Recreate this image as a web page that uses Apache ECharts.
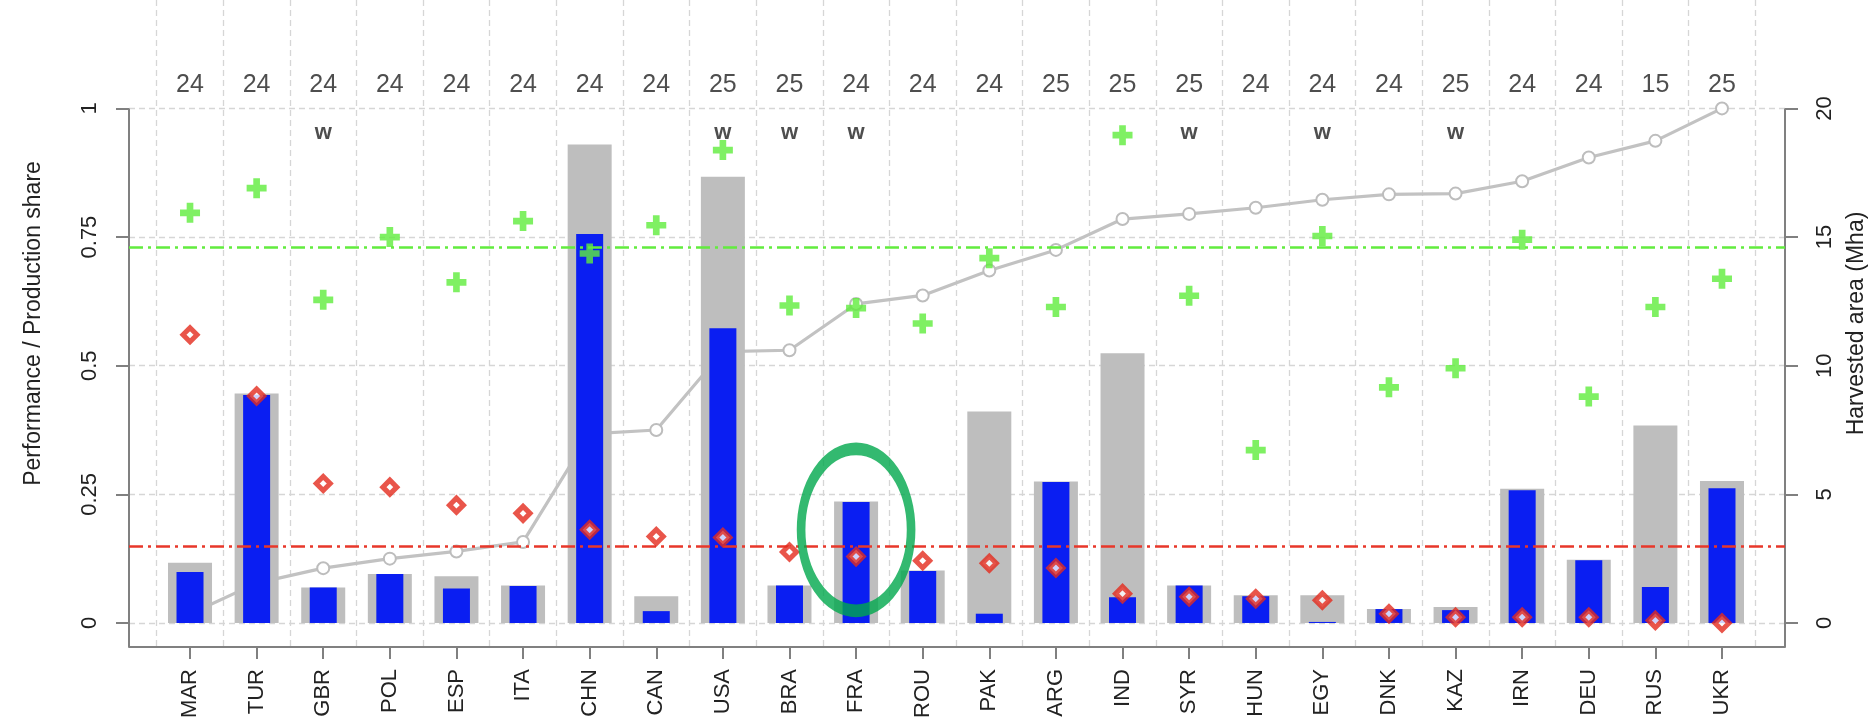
<!DOCTYPE html>
<html>
<head>
<meta charset="utf-8">
<script src="https://cdn.jsdelivr.net/npm/echarts@6/dist/echarts.min.js"></script>
<style>
  html, body { margin: 0; padding: 0; background: #ffffff; }
  #chart { width: 1873px; height: 723px; }
</style>
</head>
<body>
<div id="chart"></div>
<script>
// ---- data -------------------------------------------------------------
const countries = ['MAR','TUR','GBR','POL','ESP','ITA','CHN','CAN','USA','BRA','FRA','ROU',
                   'PAK','ARG','IND','SYR','HUN','EGY','DNK','KAZ','IRN','DEU','RUS','UKR'];

// number of seasons behind each country's statistics (top row)
const seasonCounts = [24,24,24,24,24,24,24,24,25,25,24,24,24,25,25,25,24,24,24,25,24,24,15,25];

// 'w' marks countries flagged in the second row
const flags = ['','','w','','','','','','w','w','w','','','','','w','','w','','w','','','',''];

// production share (grey bars) and its explained part (blue bars)
const productionShare = [0.117,0.446,0.069,0.095,0.091,0.073,0.930,0.052,0.867,0.073,0.236,0.102,
                         0.411,0.275,0.524,0.073,0.054,0.054,0.027,0.031,0.261,0.123,0.384,0.276];
const explainedShare  = [0.099,0.443,0.069,0.095,0.067,0.072,0.756,0.023,0.573,0.073,0.235,0.101,
                         0.018,0.274,0.050,0.073,0.052,0.002,0.027,0.025,0.258,0.122,0.070,0.262];

// performance scores: red diamonds and green crosses
const scoreLow  = [0.560,0.441,0.271,0.264,0.229,0.213,0.181,0.168,0.166,0.138,0.129,0.121,
                   0.116,0.107,0.057,0.051,0.047,0.044,0.018,0.011,0.011,0.011,0.005,0.000];
const scoreHigh = [0.797,0.845,0.628,0.750,0.662,0.781,0.718,0.773,0.919,0.617,0.612,0.582,
                   0.709,0.614,0.948,0.636,0.336,0.752,0.458,0.495,0.745,0.440,0.614,0.669];

// harvested area, Mha (right axis)
const harvestedArea = [0.35,1.55,2.13,2.50,2.78,3.15,7.35,7.50,10.55,10.60,12.40,12.73,
                       13.70,14.50,15.70,15.90,16.14,16.45,16.66,16.69,17.17,18.09,18.74,20.00];

// reference levels
const scoreLowLevel = 0.15;
const scoreHighLevel = 0.727;

// axis ticks
const leftTicks  = [0, 0.25, 0.5, 0.75, 1];
const rightTicks = [0, 5, 10, 15, 20];

// highlighted country
const highlighted = 'FRA';

// ---- layout -----------------------------------------------------------
const X_MIN = 0.084, X_MAX = 24.946;
const Y_MIN = -0.0467, Y_MAX = 1.2107;
const AREA_PER_UNIT = 20;            // right axis value that lines up with 1 on the left
const COUNT_ROW_Y = 1.046;
const FLAG_ROW_Y = 0.952;
const HIGHLIGHT_Y = 0.181;

const FONT = "'Liberation Sans', Arial, Helvetica, sans-serif";
const TEXT = '#222222';
const AXIS_GREY = '#808080';
const GRID_GREY = '#d6d6d6';

const positions = countries.map((_, i) => i + 1);
const boundaries = countries.map((_, i) => i + 0.5).concat([countries.length + 0.5]);
const xy = arr => arr.map((v, i) => [i + 1, v]);

const plus = 'path://M1,0H2V1H3V2H2V3H1V2H0V1H1Z';
const ellipse = 'path://M0,81A55,81 0 1,1 110,81A55,81 0 1,1 0,81Z';

const chart = echarts.init(document.getElementById('chart'), null, { renderer: 'canvas' });

chart.setOption({
  animation: false,
  backgroundColor: '#ffffff',
  textStyle: { fontFamily: FONT },
  grid: { left: 129, right: 88, top: 0, bottom: 76, containLabel: false, outerBoundsMode: 'none' },
  xAxis: [
    {
      type: 'value', min: X_MIN, max: X_MAX, position: 'bottom',
      axisLine: { show: true, onZero: false, lineStyle: { color: AXIS_GREY, width: 2 } },
      axisTick: { show: true, customValues: positions, length: 12, lineStyle: { color: AXIS_GREY, width: 2 } },
      axisLabel: {
        show: true, customValues: positions, rotate: 90, margin: 22,
        fontSize: 22, color: TEXT, fontFamily: FONT,
        formatter: v => countries[Math.round(v) - 1] || ''
      },
      splitLine: { show: false }
    },
    {
      // carries the dashed column separators and the blue bars
      type: 'value', min: X_MIN, max: X_MAX, position: 'top',
      axisLine: { show: false },
      axisTick: { show: false, customValues: boundaries },
      axisLabel: { show: false },
      splitLine: { show: true, lineStyle: { color: GRID_GREY, type: [6, 4], width: 1.3 } }
    }
  ],
  yAxis: [
    {
      type: 'value', min: Y_MIN, max: Y_MAX, position: 'left',
      name: 'Performance / Production share', nameLocation: 'middle', nameRotate: 90, nameGap: 84,
      nameTextStyle: { fontSize: 23, color: TEXT, fontFamily: FONT },
      axisLine: { show: false },
      axisTick: { show: true, customValues: leftTicks, length: 13, lineStyle: { color: AXIS_GREY, width: 2 } },
      axisLabel: { show: true, customValues: leftTicks, rotate: 90, margin: 28, fontSize: 22, color: TEXT, fontFamily: FONT },
      splitLine: { show: true, lineStyle: { color: GRID_GREY, type: [6, 4], width: 1.3 } }
    },
    {
      type: 'value', min: Y_MIN * AREA_PER_UNIT, max: Y_MAX * AREA_PER_UNIT, position: 'right',
      name: 'Harvested area (Mha)', nameLocation: 'middle', nameRotate: 90, nameGap: 60,
      nameTextStyle: { fontSize: 23, color: TEXT, fontFamily: FONT },
      axisLine: { show: false },
      axisTick: { show: true, customValues: rightTicks, length: 13, lineStyle: { color: AXIS_GREY, width: 2 } },
      axisLabel: { show: true, customValues: rightTicks, rotate: 90, margin: 29, fontSize: 22, color: TEXT, fontFamily: FONT },
      splitLine: { show: false }
    }
  ],
  series: [
    {
      name: 'Harvested area', type: 'line', xAxisIndex: 0, yAxisIndex: 1, z: 1,
      data: xy(harvestedArea),
      symbol: 'emptyCircle', symbolSize: 12, showAllSymbol: true,
      itemStyle: { color: '#bdbdbd', borderWidth: 2.8 },
      lineStyle: { color: '#c2c2c2', width: 3.2 }
    },
    {
      name: 'Production share', type: 'bar', xAxisIndex: 0, yAxisIndex: 0, z: 2,
      data: xy(productionShare), barWidth: 44,
      itemStyle: { color: '#bebebe' },
      markLine: {
        silent: true, symbol: ['none', 'none'], label: { show: false },
        data: [
          [{ coord: [X_MIN, 1] }, { coord: [X_MIN, Y_MIN] }],
          [{ coord: [X_MAX, 1] }, { coord: [X_MAX, Y_MIN] }]
        ],
        lineStyle: { color: AXIS_GREY, width: 2, type: 'solid' }
      }
    },
    {
      name: 'Explained share', type: 'bar', xAxisIndex: 1, yAxisIndex: 0, z: 3,
      data: xy(explainedShare), barWidth: 27,
      itemStyle: { color: '#0a1ef2' },
      markLine: {
        silent: true, symbol: ['none', 'none'], label: { show: false },
        data: [
          { yAxis: scoreLowLevel, lineStyle: { color: '#e8372a', width: 2.6, type: [14, 5, 3, 5] } },
          { yAxis: scoreHighLevel, lineStyle: { color: '#62ec3e', width: 2.6, type: [14, 5, 3, 5] } }
        ]
      }
    },
    {
      name: 'Score (high)', type: 'scatter', xAxisIndex: 0, yAxisIndex: 0, z: 4,
      data: xy(scoreHigh), symbol: plus, symbolSize: 20,
      itemStyle: { color: '#5fec3c' }
    },
    {
      name: 'Score (low)', type: 'scatter', xAxisIndex: 0, yAxisIndex: 0, z: 5,
      data: xy(scoreLow), symbol: 'diamond', symbolSize: 14,
      itemStyle: { color: '#ffffff', borderColor: '#e32b1d', borderWidth: 5 }
    },
    {
      name: 'Seasons', type: 'scatter', xAxisIndex: 0, yAxisIndex: 0, z: 6, silent: true,
      data: positions.map(p => [p, COUNT_ROW_Y]),
      symbolSize: 1, itemStyle: { color: 'rgba(0,0,0,0)' },
      label: {
        show: true, position: 'inside', fontSize: 25, color: TEXT, fontFamily: FONT,
        formatter: p => String(seasonCounts[p.dataIndex])
      }
    },
    {
      name: 'Flags', type: 'scatter', xAxisIndex: 0, yAxisIndex: 0, z: 6, silent: true,
      data: positions.map(p => [p, FLAG_ROW_Y]),
      symbolSize: 1, itemStyle: { color: 'rgba(0,0,0,0)' },
      label: {
        show: true, position: 'inside', fontSize: 22, fontWeight: 'bold', color: TEXT, fontFamily: FONT,
        formatter: p => flags[p.dataIndex]
      }
    },
    {
      name: 'Highlight', type: 'scatter', xAxisIndex: 0, yAxisIndex: 0, z: 10, silent: true,
      data: [[countries.indexOf(highlighted) + 1, HIGHLIGHT_Y]],
      symbol: ellipse, symbolSize: [110, 162],
      itemStyle: { color: 'rgba(0,0,0,0)', borderColor: '#00a84c', borderWidth: 10.5 }
    }
  ]
});
</script>
</body>
</html>
